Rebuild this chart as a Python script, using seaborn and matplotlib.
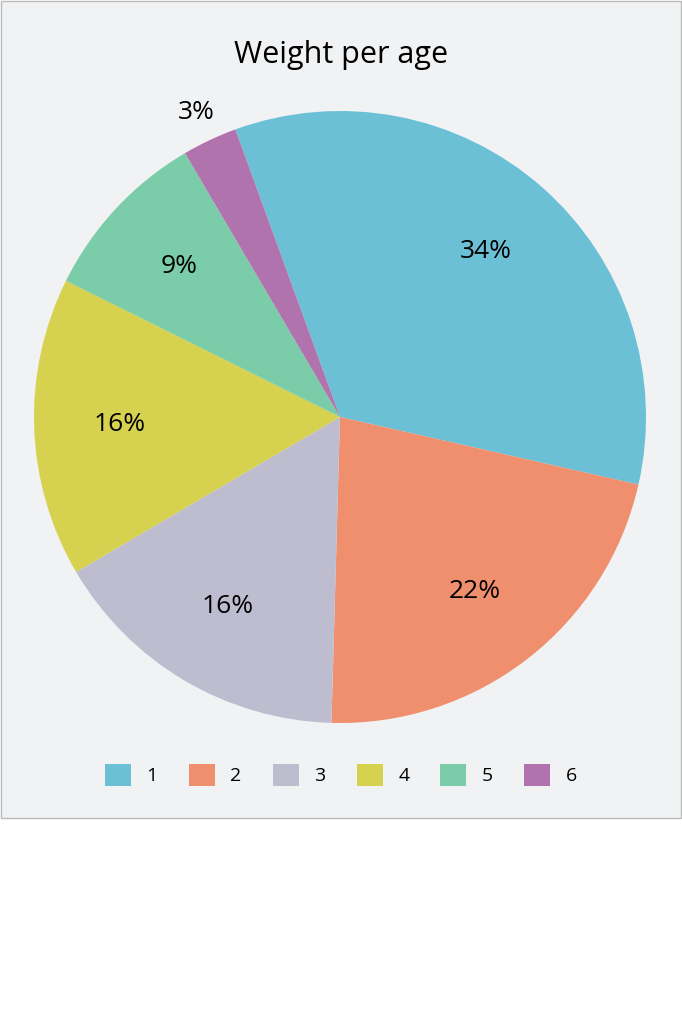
import seaborn as sns
import matplotlib.pyplot as plt
import numpy as np
from matplotlib.patches import Rectangle

ages = ['1', '2', '3', '4', '5', '6']
weights = [34.1, 21.9, 16.1, 15.8, 9.2, 2.9]
colors = ['#6cc0d6', '#f08f6d', '#bebdd0', '#d6d14f', '#7bcca8', '#b173ad']

sns.set_theme(style="white")
plt.rcParams['font.family'] = ['Open Sans', 'Noto Sans', 'DejaVu Sans']

fig = plt.figure(figsize=(6.82, 10.24), dpi=100)
fig.patch.set_facecolor('white')

# grey panel behind the chart
panel = Rectangle((0.001, 206 / 1024), 0.997, 818 / 1024 - 0.001, transform=fig.transFigure,
                  facecolor='#f1f2f4', edgecolor='#bbbbbb', linewidth=1, zorder=-10)
fig.patches.append(panel)

ax = fig.add_axes([34 / 682, (1024 - 417 - 306) / 1024, 612 / 682, 612 / 1024])
ax.set_facecolor('none')

wedges, texts, autotexts = ax.pie(weights, colors=sns.color_palette(colors), startangle=110,
                                  counterclock=False, autopct='%.0f%%', pctdistance=0.72,
                                  wedgeprops=dict(linewidth=0),
                                  textprops=dict(fontsize=19, color='black', fontweight=500))

# push labels of thin slices outside the pie
for w, t, v in zip(wedges, autotexts, weights):
    if v < 5:
        mid = np.deg2rad((w.theta1 + w.theta2) / 2)
        t.set_position((1.1 * np.cos(mid), 1.1 * np.sin(mid)))

ax.set_xlim(-1, 1)
ax.set_ylim(-1, 1)
ax.set_aspect('equal')

fig.text(0.5, 1 - 55 / 1024, 'Weight per age', ha='center', va='center', fontsize=22,
         color='black', fontweight=500)

fig.legend(wedges, ages, loc='center', bbox_to_anchor=(0.5, 1 - 775 / 1024), ncol=6,
           frameon=False, fontsize=14, handlelength=1.34, handleheight=1.34,
           columnspacing=1.6, handletextpad=0.8, labelcolor='black')

fig.savefig('out.png', dpi=100)
